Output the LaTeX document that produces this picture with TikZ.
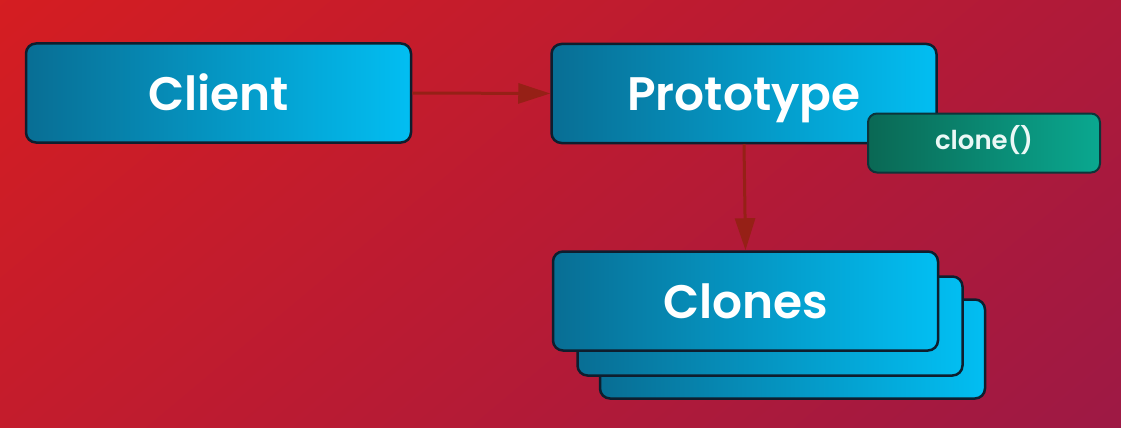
\documentclass[tikz,border=0pt]{standalone}
\usepackage{fontspec}
\setmainfont{Poppins}
\newfontfamily\semib{Poppins SemiBold}
\usetikzlibrary{arrows.meta}
\definecolor{bgA}{RGB}{218,30,30}
\definecolor{bgB}{RGB}{152,24,72}
\definecolor{boxL}{RGB}{8,110,148}
\definecolor{boxR}{RGB}{2,190,242}
\definecolor{grnL}{RGB}{10,104,84}
\definecolor{grnR}{RGB}{10,168,144}
\definecolor{edge}{RGB}{14,30,46}
\definecolor{arr}{RGB}{150,32,22}
\tikzset{
  box/.style={rectangle, rounded corners=10pt, draw=edge, line width=2.5pt,
    left color=boxL, right color=boxR, text=white,
    font=\fontsize{47}{52}\semib,
    text height=34pt, text depth=0pt,
    minimum width=385pt, minimum height=99pt, inner sep=0pt},
  gbox/.style={rectangle, rounded corners=9pt, draw=edge!70!grnL, line width=2pt,
    left color=grnL, right color=grnR, text=white!92!grnR,
    font=\fontsize{26}{30}\semib,
    text height=13pt, text depth=0pt,
    minimum width=232pt, minimum height=59pt, inner sep=0pt},
  conn/.style={draw=arr, line width=3pt, -{Triangle[length=32pt,width=20pt]}}
}
\begin{document}
\begin{tikzpicture}[x=1pt,y=-1pt]
\useasboundingbox (0,0) rectangle (1121,428);
\shade[top color=bgA, bottom color=bgB, shading angle=40] (-200,-300) rectangle (1321,728);
\node[box] (c3) at (792.5,349) {};
\node[box] (c2) at (770,326) {};
\node[box] (clones) at (745.5,301) {Clones};
\node[box] (client) at (218.5,93) {Client};
\node[box] (proto) at (744,93.5) {Prototype};
\node[gbox] (clone) at (984,143) {clone()};
\draw[conn] (client.east) -- (proto.west);
\draw[conn] (proto.south) -- (clones.north);
\end{tikzpicture}
\end{document}
